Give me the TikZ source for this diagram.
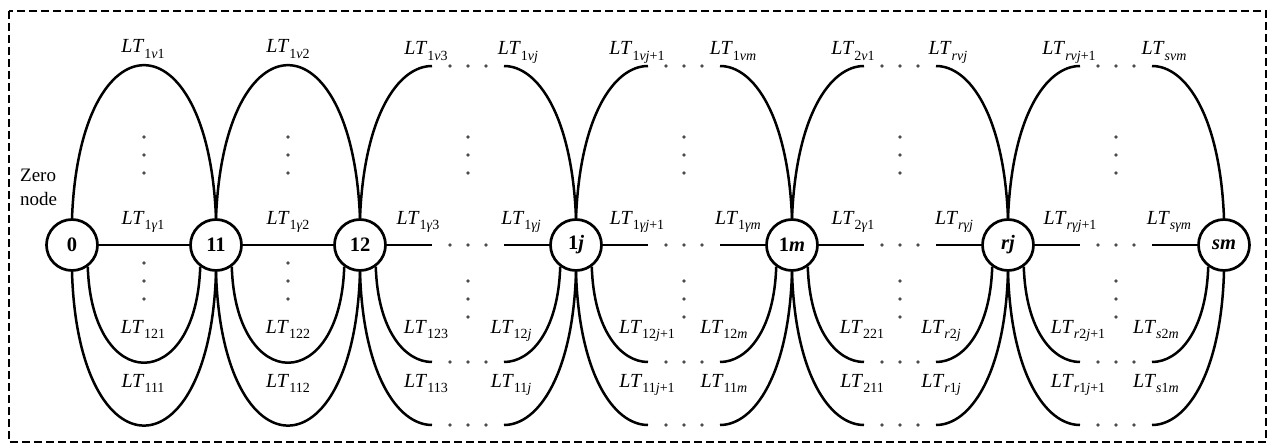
\documentclass[tikz,border=0pt]{standalone}
\usepackage{fontspec}
\setmainfont{Liberation Serif}
\newcommand\lsub[1]{\raisebox{-0.27em}{\fontsize{14}{15}\selectfont #1}}
\newcommand\LTl[1]{\textit{LT}\lsub{#1}}
\colorlet{dotc}{black!70}
\tikzset{
  nd/.style={circle,draw,line width=2.7pt,minimum size=51pt,inner sep=0pt,font=\fontsize{20.5}{22}\selectfont\bfseries},
  wire/.style={line width=2.5pt},
  lbl/.style={anchor=base,inner sep=0pt,font=\fontsize{20}{22}\selectfont},
  frame/.style={line width=1.1pt,dash pattern=on 8pt off 4pt}
}
\newcommand\fullseg[3]{%
  \draw[wire] (#1.north) .. controls +(8,-204) and +(-8,-204) .. (#2.north);
  \draw[wire] (#1) -- (#2);
  \draw[wire] (#1.-54) .. controls +(4,128) and +(-4,128) .. (#2.-126);
  \draw[wire] (#1.south) .. controls +(6,205) and +(-6,205) .. (#2.south);
  \foreach \yy in {137,155,173,263,281,299} \fill[dotc] ({#3+72},\yy) circle (1.9);
}
\newcommand\gapseg[3]{%
  \coordinate (#1-tA) at ({#3+72},66);
  \coordinate (#1-tB) at ({#3+144},66);
  \coordinate (#1-mA) at ({#3+72},245);
  \coordinate (#1-mB) at ({#3+144},245);
  \coordinate (#1-iA) at ({#3+72},362);
  \coordinate (#1-iB) at ({#3+144},362);
  \coordinate (#1-oA) at ({#3+72},425);
  \coordinate (#1-oB) at ({#3+144},425);
  \draw[wire] (#1.north) .. controls +(4,-102) and +(-34,0) .. (#1-tA);
  \draw[wire] (#1-tB) .. controls +(34,0) and +(-4,-102) .. (#2.north);
  \draw[wire] (#1) -- (#1-mA);
  \draw[wire] (#1-mB) -- (#2);
  \draw[wire] (#1.-54) .. controls +(2,64) and +(-27,0) .. (#1-iA);
  \draw[wire] (#1-iB) .. controls +(27,0) and +(-2,64) .. (#2.-126);
  \draw[wire] (#1.south) .. controls +(3,102) and +(-34.5,0) .. (#1-oA);
  \draw[wire] (#1-oB) .. controls +(34.5,0) and +(-3,102) .. (#2.south);
  \foreach \dx in {90,108,126} {\foreach \yy in {66,245,362,425} {\fill[dotc] ({#3+\dx},\yy) circle (1.9);}}
  \foreach \yy in {137,155,173,281,299,317} \fill[dotc] ({#3+108},\yy) circle (1.9);
}
\begin{document}
\begin{tikzpicture}[x=1pt,y=-1pt]
\useasboundingbox (0,0) rectangle (1270,444);
\draw[frame] (9,11) rectangle (1266,442);

\node[nd] (n0) at (72,245) {0};
\node[nd] (n11) at (216,245) {11};
\node[nd] (n12) at (360,245) {12};
\node[nd] (n1j) at (576,245) {1\textit{j}};
\node[nd] (n1m) at (792,245) {1\textit{m}};
\node[nd] (nrj) at (1008,245) {\textit{rj}};
\node[nd] (nsm) at (1224,245) {\textit{sm}};

\fullseg{n0}{n11}{72}
\fullseg{n11}{n12}{216}
\gapseg{n12}{n1j}{360}
\gapseg{n1j}{n1m}{576}
\gapseg{n1m}{nrj}{792}
\gapseg{nrj}{nsm}{1008}

\node[anchor=base west,inner sep=0pt,font=\fontsize{19}{20}\selectfont] (z1) at (20,181) {Zero};
\node[anchor=base west,inner sep=0pt,font=\fontsize{19}{20}\selectfont] (z2) at (20,205) {node};

% top row
\node[lbl] (a1) at (143,53) {\LTl{1\textit{ν}1}};
\node[lbl] (a2) at (288,53) {\LTl{1\textit{ν}2}};
\node[lbl] (a3) at (426,55) {\LTl{1\textit{ν}3}};
\node[lbl] (a4) at (518,55) {\LTl{1\textit{νj}}};
\node[lbl] (a5) at (637,55) {\LTl{1\textit{νj}+1}};
\node[lbl] (a6) at (733,55) {\LTl{1\textit{νm}}};
\node[lbl] (a7) at (853,55) {\LTl{2\textit{ν}1}};
\node[lbl] (a8) at (948,55) {\LTl{\textit{rνj}}};
\node[lbl] (a9) at (1069,55) {\LTl{\textit{rνj}+1}};
\node[lbl] (a10) at (1164,55) {\LTl{\textit{sνm}}};
% middle row
\node[lbl] (b1) at (143,224) {\LTl{1\textit{γ}1}};
\node[lbl] (b2) at (288,224) {\LTl{1\textit{γ}2}};
\node[lbl] (b3) at (418,224) {\LTl{1\textit{γ}3}};
\node[lbl] (b4) at (521,224) {\LTl{1\textit{γj}}};
\node[lbl] (b5) at (637,224) {\LTl{1\textit{γj}+1}};
\node[lbl] (b6) at (738,224) {\LTl{1\textit{γm}}};
\node[lbl] (b7) at (853,224) {\LTl{2\textit{γ}1}};
\node[lbl] (b8) at (954,224) {\LTl{\textit{rγj}}};
\node[lbl] (b9) at (1070,224) {\LTl{\textit{rγj}+1}};
\node[lbl] (b10) at (1169,224) {\LTl{\textit{sγm}}};
% third row
\node[lbl] (c1) at (143,333) {\LTl{121}};
\node[lbl] (c2) at (288,333) {\LTl{122}};
\node[lbl] (c3) at (426,333) {\LTl{123}};
\node[lbl] (c4) at (511,333) {\LTl{12\textit{j}}};
\node[lbl] (c5) at (647,333) {\LTl{12\textit{j}+1}};
\node[lbl] (c6) at (724,333) {\LTl{12\textit{m}}};
\node[lbl] (c7) at (862,333) {\LTl{221}};
\node[lbl] (c8) at (941,333) {\LTl{\textit{r}2\textit{j}}};
\node[lbl] (c9) at (1078,333) {\LTl{\textit{r}2\textit{j}+1}};
\node[lbl] (c10) at (1156,333) {\LTl{\textit{s}2\textit{m}}};
% fourth row
\node[lbl] (d1) at (143,387) {\LTl{111}};
\node[lbl] (d2) at (288,387) {\LTl{112}};
\node[lbl] (d3) at (426,387) {\LTl{113}};
\node[lbl] (d4) at (511,387) {\LTl{11\textit{j}}};
\node[lbl] (d5) at (647,387) {\LTl{11\textit{j}+1}};
\node[lbl] (d6) at (724,387) {\LTl{11\textit{m}}};
\node[lbl] (d7) at (862,387) {\LTl{211}};
\node[lbl] (d8) at (941,387) {\LTl{\textit{r}1\textit{j}}};
\node[lbl] (d9) at (1078,387) {\LTl{\textit{r}1\textit{j}+1}};
\node[lbl] (d10) at (1156,387) {\LTl{\textit{s}1\textit{m}}};
\end{tikzpicture}
\end{document}
